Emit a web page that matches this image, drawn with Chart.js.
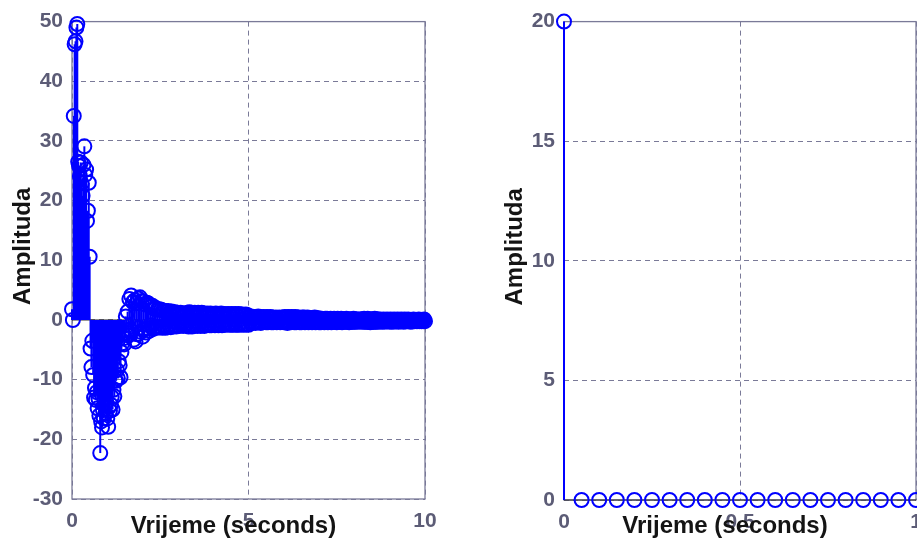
<!DOCTYPE html>
<html>
<head>
<meta charset="utf-8">
<script src="https://cdn.jsdelivr.net/npm/chart.js@4.4.0/dist/chart.umd.min.js"></script>
<style>
  html, body { margin: 0; padding: 0; background: #ffffff; overflow: hidden; width: 917px; height: 539px; }
  #left  { position: absolute; left: 0;     top: 0; }
  #right { position: absolute; left: 470px; top: 0; }
</style>
</head>
<body>
<canvas id="left" width="470" height="539"></canvas>
<canvas id="right" width="500" height="539"></canvas>
<script>
// ---- impulse response (left panel), sampled every 0.025 s from 0 to 10 s ----
const leftStep = 0.025;
const leftValues = [
  // 0 .. 0.5 s
  1.8, 0.0, 34.2, 46.2, 46.7, 49.0, 49.6, 26.5, 25.8, 24.1,
  26.4, 22.9, 20.8, 26.0, 29.1, 24.3, 25.2, 16.6, 18.3, 23.0,
  10.6,
  // 0.525 .. 1.5 s
  -4.8, -7.9, -3.5, -9.2, -13.0, -11.4, -13.4, -12.1, -14.8, -13.2,
  -16.0, -22.3, -17.0, -18.0, -15.1, -16.5, -14.3, -15.6, -13.8, -16.5,
  -17.9, -14.6, -15.2, -14.2, -12.9, -15.0, -11.7, -12.8, -10.1, -10.2,
  -8.4, -9.8, -6.9, -7.6, -9.6, -5.4, -3.9, -2.3, -4.1, -3.0,
  // 1.525 .. 2.5 s
  0.6, -2.2, 1.4, -2.6, 3.5, -1.7, 4.1, -1.9, 3.0, -3.3,
  3.3, -3.6, 2.8, -2.4, 3.6, -1.3, 3.8, -2.0, 3.2, -2.8,
  3.1, -1.6, 2.6, -2.1, 2.9, -1.4, 2.7, -1.8, 2.2, -0.9,
  2.4, -1.5, 1.9, -1.1, 2.0, -1.3, 1.7, -1.2, 1.8, -1.2,
  // 2.525 .. 4.0 s
  1.7, -1.3, 1.6, -1.1, 1.5, -1.3, 1.4, -1.2, 1.5, -1.0,
  1.3, -1.2, 1.4, -1.1, 1.2, -1.0, 1.3, -1.1, 1.2, -0.9,
  1.1, -1.0, 1.2, -0.9, 1.1, -1.0, 1.0, -0.9, 1.1, -0.8,
  1.2, -1.1, 1.3, -1.0, 1.2, -1.1, 1.1, -1.0, 1.2, -0.9,
  1.1, -1.0, 1.2, -0.9, 1.1, -1.0, 1.2, -0.9, 1.1, -1.0,
  1.0, -0.9, 1.1, -0.8, 1.0, -0.9, 1.1, -0.9, 1.0, -0.8,
  // 4.025 .. 5.0 s
  1.0, -0.9, 1.1, -0.8, 1.0, -0.9, 1.0, -0.8, 1.1, -0.9,
  0.9, -0.8, 1.0, -0.7, 0.9, -0.8, 1.0, -0.7, 0.9, -0.8,
  1.0, -0.8, 0.9, -0.7, 1.0, -0.8, 0.9, -0.8, 1.0, -0.7,
  0.9, -0.8, 0.9, -0.7, 0.8, -0.8, 0.9, -0.7, 0.8, -0.8,
  // 5.025 .. 7.0 s
  0.5, -0.4, 0.6, -0.5, 0.5, -0.4, 0.4, -0.5, 0.5, -0.4,
  0.6, -0.4, 0.5, -0.5, 0.4, -0.4, 0.5, -0.3, 0.4, -0.4,
  0.5, -0.4, 0.4, -0.3, 0.5, -0.4, 0.4, -0.4, 0.3, -0.3,
  0.4, -0.4, 0.3, -0.3, 0.4, -0.4, 0.3, -0.3, 0.4, -0.4,
  0.5, -0.4, 0.4, -0.5, 0.5, -0.4, 0.4, -0.4, 0.5, -0.3,
  0.4, -0.4, 0.5, -0.4, 0.4, -0.3, 0.4, -0.4, 0.3, -0.4,
  0.4, -0.3, 0.4, -0.4, 0.3, -0.3, 0.4, -0.4, 0.3, -0.3,
  0.3, -0.4, 0.3, -0.3, 0.4, -0.4, 0.3, -0.3, 0.3, -0.4,
  // 7.025 .. 10.0 s
  0.2, -0.4, 0.2, -0.3, 0.1, -0.4, 0.2, -0.3, 0.2, -0.4,
  0.1, -0.3, 0.2, -0.4, 0.1, -0.3, 0.2, -0.3, 0.1, -0.4,
  0.2, -0.3, 0.1, -0.3, 0.2, -0.4, 0.1, -0.3, 0.1, -0.3,
  0.2, -0.3, 0.1, -0.4, 0.1, -0.3, 0.1, -0.3, 0.2, -0.3,
  0.1, -0.3, 0.1, -0.2, 0.1, -0.3, 0.1, -0.2, 0.1, -0.3,
  0.2, -0.3, 0.1, -0.3, 0.2, -0.3, 0.1, -0.4, 0.1, -0.3,
  0.1, -0.3, 0.2, -0.3, 0.1, -0.3, 0.1, -0.2, 0.1, -0.3,
  0.0, -0.2, 0.1, -0.3, 0.0, -0.2, 0.1, -0.2, 0.0, -0.3,
  0.1, -0.2, 0.0, -0.3, 0.1, -0.2, 0.0, -0.2, 0.1, -0.3,
  0.0, -0.2, 0.1, -0.2, 0.0, -0.3, 0.1, -0.2, 0.0, -0.2,
  0.1, -0.2, 0.0, -0.3, 0.0, -0.2, 0.1, -0.2, 0.0, -0.2,
  0.0, -0.2, 0.1, -0.2, 0.0, -0.2, 0.0, -0.2, 0.1, -0.2
];

// ---- discrete unit impulse (right panel), sampled every 0.05 s from 0 to 1 s ----
const rightStep = 0.05;
const rightValues = [
  20, 0, 0, 0, 0, 0, 0, 0, 0, 0,
  0, 0, 0, 0, 0, 0, 0, 0, 0, 0,
  0
];

// axis ranges and tick spacing
const leftXRange = [0, 10],  leftXStep = 5;
const leftYRange = [-30, 50], leftYStep = 10;
const rightXRange = [0, 1],  rightXStep = 0.5;
const rightYRange = [0, 20], rightYStep = 5;

const xTitle = 'Vrijeme (seconds)';
const yTitle = 'Amplituda';

const BLUE = '#0000ff';
const FRAME = '#7a7a98';
const TICK_TEXT = '#5c5c76';
const BASELINE = '#262626';
const FONT = '"Liberation Sans", Arial, sans-serif';

function toPoints(step, values) {
  return values.map((v, i) => ({ x: +(i * step).toFixed(4), y: v }));
}

// axes box, stem baseline and the stems themselves (drawn under the markers)
const stemPlugin = {
  id: 'stems',
  beforeDatasetsDraw(chart) {
    const { ctx, chartArea: a, scales: { x, y } } = chart;
    ctx.save();
    ctx.strokeStyle = FRAME;
    ctx.lineWidth = 1.3;
    ctx.setLineDash([]);
    ctx.strokeRect(a.left, a.top, a.right - a.left, a.bottom - a.top);

    const y0 = y.getPixelForValue(0);
    ctx.strokeStyle = BASELINE;
    ctx.lineWidth = 1;
    ctx.beginPath();
    ctx.moveTo(x.getPixelForValue(x.min), y0);
    ctx.lineTo(x.getPixelForValue(x.max), y0);
    ctx.stroke();

    ctx.strokeStyle = BLUE;
    ctx.lineWidth = 2;
    chart.data.datasets[0].data.forEach(p => {
      const px = x.getPixelForValue(p.x);
      ctx.beginPath();
      ctx.moveTo(px, y0);
      ctx.lineTo(px, y.getPixelForValue(p.y));
      ctx.stroke();
    });
    ctx.restore();
  }
};

// axis titles
const titlePlugin = {
  id: 'axisTitles',
  afterDraw(chart) {
    const { ctx, chartArea: a } = chart;
    ctx.save();
    ctx.fillStyle = '#141414';
    ctx.font = 'bold 24px ' + FONT;
    ctx.textAlign = 'center';
    ctx.textBaseline = 'alphabetic';
    ctx.fillText(xTitle, (a.left + a.right) / 2 - 15, 533);
    ctx.translate(a.left - 42, (a.top + a.bottom) / 2 - 14);
    ctx.rotate(-Math.PI / 2);
    ctx.fillText(yTitle, 0, 0);
    ctx.restore();
  }
};

function axis(range, step, fit, pad) {
  return {
    type: 'linear',
    min: range[0],
    max: range[1],
    afterFit: fit,
    ticks: {
      stepSize: step,
      color: TICK_TEXT,
      font: { family: FONT, size: 21, weight: 'bold' },
      padding: pad,
      maxRotation: 0,
      autoSkip: false,
      callback: v => String(v)
    },
    grid: { color: FRAME, lineWidth: 1, drawTicks: false },
    border: { display: false, dash: [5, 4] }
  };
}

function makeChart(id, step, values, xr, xs, yr, ys, yWidth, xHeight, padding) {
  return new Chart(document.getElementById(id), {
    type: 'scatter',
    data: {
      datasets: [{
        data: toPoints(step, values),
        showLine: false,
        pointStyle: 'circle',
        pointRadius: 7,
        pointHoverRadius: 7,
        pointBorderWidth: 2,
        pointBorderColor: BLUE,
        pointBackgroundColor: 'rgba(0,0,0,0)',
        clip: false
      }]
    },
    options: {
      responsive: false,
      animation: false,
      events: [],
      layout: { padding },
      plugins: { legend: { display: false }, tooltip: { enabled: false } },
      scales: {
        x: axis(xr, xs, s => { s.height = xHeight; }, 10),
        y: axis(yr, ys, s => { s.width = yWidth; }, 9)
      }
    },
    plugins: [stemPlugin, titlePlugin]
  });
}

makeChart('left', leftStep, leftValues, leftXRange, leftXStep, leftYRange, leftYStep,
  72, 40, { top: 20, right: 45, bottom: 0, left: 0 });
makeChart('right', rightStep, rightValues, rightXRange, rightXStep, rightYRange, rightYStep,
  94, 39, { top: 20, right: 54, bottom: 0, left: 0 });
</script>
</body>
</html>
